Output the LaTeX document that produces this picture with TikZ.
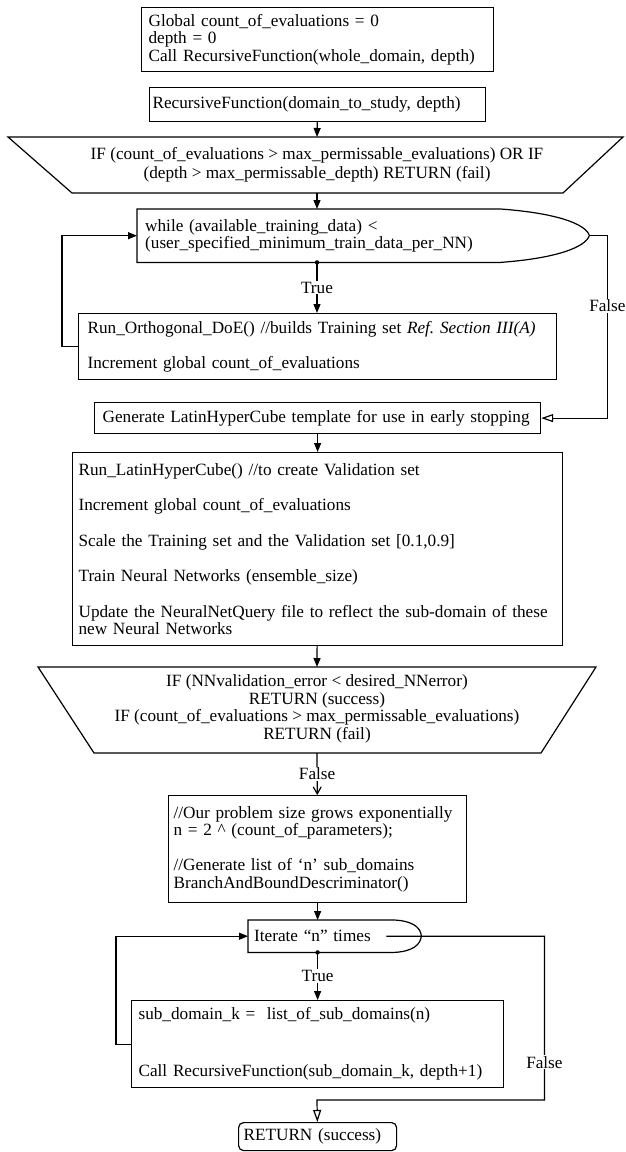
\documentclass[tikz,border=0pt]{standalone}
\usepackage{fontspec}
\setmainfont{Liberation Serif}
\usetikzlibrary{arrows.meta}
\frenchspacing

\tikzset{
  ln/.style={line width=1.2pt},
  blk/.style={draw, ln, anchor=north west, align=left, inner ysep=0pt},
  txt/.style={anchor=north west, align=left, inner ysep=0pt},
  lbl/.style={fill=white, inner sep=1pt},
  arr/.style={ln, -{Triangle[length=9pt,width=7pt]}},
  arro/.style={ln, -{Triangle[open,length=12pt,width=8pt]}},
  arrv/.style={ln, -{Straight Barb[length=7pt,width=8pt]}}
}

\begin{document}
\begin{tikzpicture}[x=1pt, y=-1pt, font=\fontsize{17.2}{17.5}\selectfont]
  \useasboundingbox (0,0) rectangle (625,1152);
  \fill[white] (0,0) rectangle (625,1152);

  \node[blk, minimum width=352pt, minimum height=64pt, inner xsep=7pt, text width=338pt] (init) at (141,7)
    {Global count\_of\_evaluations = 0\\ depth = 0\\ Call RecursiveFunction(whole\_domain, depth)};
  \node[blk, minimum width=336pt, minimum height=34pt, inner xsep=3pt, text width=330pt] (rec) at (149,87)
    {RecursiveFunction(domain\_to\_study, depth)};

  %% first check
  \draw[ln] (8,137) -- (623,137) -- (563,193) -- (72,193) -- cycle;
  \node[align=center] (trapA) at (317,165)
    {IF (count\_of\_evaluations > max\_permissable\_evaluations) OR IF\\[1.5pt] (depth > max\_permissable\_depth) RETURN (fail)};
  \coordinate (trapA-top) at (317,137);
  \coordinate (trapA-bot) at (317,193);

  %% while loop
  \node[txt, minimum width=363pt, minimum height=53pt, inner xsep=8pt, text width=347pt] (loopA) at (137,209)
    {while (available\_training\_data) <\\ (user\_specified\_minimum\_train\_data\_per\_NN)};
  \draw[ln] (loopA.north west) -- (loopA.north east) .. controls +(55,4) and +(-4,-12) .. ++(89,26.5) coordinate (loopA-tip)
    .. controls +(-4,12) and +(55,-4) .. (loopA.south east) -- (loopA.south west) -- cycle;

  \node[blk, minimum width=478pt, minimum height=66pt, inner xsep=9pt, text width=460pt] (orth) at (78,313)
    {\mbox{Run\_Orthogonal\_DoE() //builds Training set \textit{Ref. Section III(A)}}\\[17.5pt] Increment global count\_of\_evaluations};
  \node[blk, minimum width=446pt, minimum height=31pt, inner xsep=8pt, text width=430pt] (gen) at (94,402)
    {\mbox{Generate LatinHyperCube template for use in early stopping}};
  \node[blk, minimum width=490pt, minimum height=193pt, inner xsep=6pt, text width=478pt] (lhc) at (72,452)
    {Run\_LatinHyperCube() //to create Validation set\\[18pt]
     Increment global count\_of\_evaluations\\[18pt]
     Scale the Training set and the Validation set [0.1,0.9]\\[18pt]
     Train Neural Networks (ensemble\_size)\\[18pt]
     \mbox{Update the NeuralNetQuery file to reflect the sub-domain of these}\\ new Neural Networks};

  %% second check
  \draw[ln] (38,667) -- (596,667) -- (541,753) -- (94,753) -- cycle;
  \node[align=center] (trapB) at (317,709)
    {IF (NNvalidation\_error < desired\_NNerror)\\ RETURN (success)\\ IF (count\_of\_evaluations > max\_permissable\_evaluations)\\ RETURN (fail)};
  \coordinate (trapB-top) at (317,667);
  \coordinate (trapB-bot) at (317,753);

  \node[blk, minimum width=298pt, minimum height=107pt, inner xsep=5pt, text width=288pt] (our) at (168,795)
    {//Our problem size grows exponentially\\ n = 2 \textasciicircum\ (count\_of\_parameters);\\[17.5pt]
     //Generate list of `n' sub\_domains\\ BranchAndBoundDescriminator()};

  %% for loop
  \node[txt, minimum width=146pt, minimum height=32pt, inner xsep=6pt, text width=134pt] (iter) at (248,920)
    {Iterate ``n'' times};
  \draw[ln] (iter.north west) -- (iter.north east) .. controls +(18,1) and +(-1,-9) .. ++(27,16) coordinate (iter-tip)
    .. controls +(-1,9) and +(18,-1) .. (iter.south east) -- (iter.south west) -- cycle;

  \node[blk, minimum width=372pt, minimum height=87pt, inner xsep=7pt, text width=358pt] (sub) at (131,1000)
    {sub\_domain\_k =\ \ list\_of\_sub\_domains(n)\\[39.5pt] Call RecursiveFunction(sub\_domain\_k, depth+1)};
  \node[blk, rounded corners=5pt, minimum width=158pt, minimum height=28pt, inner xsep=5pt, text width=148pt] (ret) at (238,1122)
    {RETURN (success)};
  \coordinate (merge) at (317,1100);

  %% connectors
  \draw[arr] (rec) -- (trapA-top);
  \draw[arr] (trapA-bot) -- (trapA-bot |- loopA.north);
  \fill (loopA.south -| trapA-bot) coordinate (dotA) circle (2.2pt);
  \draw[arr] (dotA) -- node[lbl]{True} (orth.north -| dotA);
  \draw[arr] (orth.west) -- ++(-16,0) |- (loopA.west);
  \draw[arro] (loopA-tip) -- ++(18,0) coordinate (c1) -- node[lbl, pos=.385]{False} (c1 |- gen.east) -- (gen.east);
  \draw[arr] (gen) -- (lhc);
  \draw[arr] (lhc) -- (trapB-top);
  \draw[arrv] (trapB-bot) -- node[lbl]{False} (our);
  \draw[arr] (our) -- (our |- iter.north);
  \fill (iter.south -| our) coordinate (dotB) circle (2.2pt);
  \draw[arr] (dotB) -- node[lbl]{True} (sub);
  \draw[arr] (sub.west) -- ++(-15,0) |- (iter.west);
  \draw[arro] ([xshift=-8pt]iter.east) -- ++(158,0) coordinate (c2) -- node[lbl, pos=.77]{False} (c2 |- merge) -- (merge) -- (ret);
\end{tikzpicture}
\end{document}
